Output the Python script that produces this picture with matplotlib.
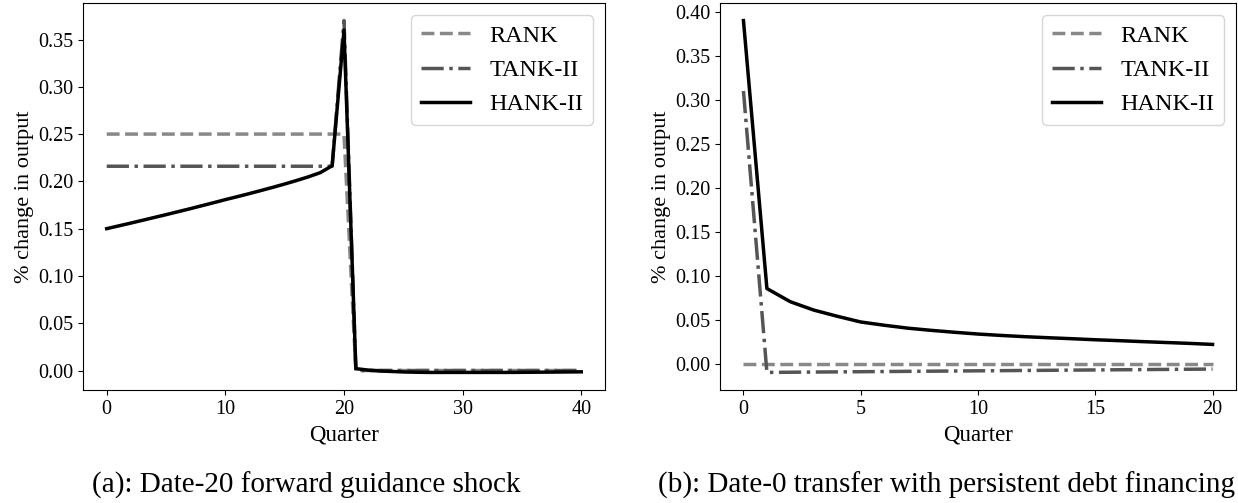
import numpy as np
import matplotlib
matplotlib.use("Agg")
import matplotlib.pyplot as plt

plt.rcParams['font.family'] = ['Liberation Serif', 'DejaVu Serif']

# panel (a): date-20 forward guidance shock
quarter_a = list(range(41))
rank_a = [0.25, 0.25, 0.25, 0.25, 0.25, 0.25, 0.25, 0.25, 0.25, 0.25,
          0.25, 0.25, 0.25, 0.25, 0.25, 0.25, 0.25, 0.25, 0.25, 0.25,
          0.25, 0.0, 0.0, 0.0, 0.0, 0.0, 0.0, 0.0, 0.0, 0.0,
          0.0, 0.0, 0.0, 0.0, 0.0, 0.0, 0.0, 0.0, 0.0, 0.0, 0.0]
tank_a = [0.216, 0.216, 0.216, 0.216, 0.216, 0.216, 0.216, 0.216, 0.216, 0.216,
          0.216, 0.216, 0.216, 0.216, 0.216, 0.216, 0.216, 0.216, 0.216, 0.216,
          0.370, 0.0, 0.0, 0.0, 0.0, 0.0, 0.0, 0.0, 0.0, 0.0,
          0.0, 0.0, 0.0, 0.0, 0.0, 0.0, 0.0, 0.0, 0.0, 0.0, 0.0]
hank_a = [0.1500, 0.1529, 0.1558, 0.1588, 0.1618, 0.1648, 0.1679, 0.1710, 0.1742, 0.1774,
          0.1807, 0.1838, 0.1870, 0.1903, 0.1937, 0.1972, 0.2009, 0.2048, 0.2092, 0.2165,
          0.3600, 0.0020, 0.0005, -0.0005, -0.0010, -0.0015, -0.0018, -0.0020, -0.0020, -0.0020,
          -0.0020, -0.0020, -0.0020, -0.0020, -0.0020, -0.0019, -0.0018, -0.0017, -0.0016, -0.0015, -0.0014]

# panel (b): date-0 transfer with persistent debt financing
quarter_b = list(range(21))
rank_b = [0.0, 0.0, 0.0, 0.0, 0.0, 0.0, 0.0, 0.0, 0.0, 0.0,
          0.0, 0.0, 0.0, 0.0, 0.0, 0.0, 0.0, 0.0, 0.0, 0.0, 0.0]
tank_b = [0.310, -0.0098, -0.0096, -0.0094, -0.0092, -0.0090, -0.0088, -0.0086, -0.0084, -0.0082,
          -0.0080, -0.0078, -0.0076, -0.0074, -0.0072, -0.0070, -0.0068, -0.0066, -0.0064, -0.0062, -0.0060]
hank_b = [0.390, 0.0855, 0.0705, 0.0610, 0.0540, 0.0475, 0.0438, 0.0405, 0.0380, 0.0358,
          0.0338, 0.0322, 0.0308, 0.0296, 0.0285, 0.0273, 0.0263, 0.0252, 0.0242, 0.0232, 0.0220]

labels = ['RANK', 'TANK-II', 'HANK-II']
captions = ['(a): Date-20 forward guidance shock',
            '(b): Date-0 transfer with persistent debt financing']

fig = plt.figure(figsize=(12.38, 5.03), dpi=100)
ax1 = fig.add_axes([83/1238, 113/503, 522/1238, 387/503])
ax2 = fig.add_axes([720/1238, 113/503, 516/1238, 387/503])

for ax, q, r, t, h in [(ax1, quarter_a, rank_a, tank_a, hank_a),
                       (ax2, quarter_b, rank_b, tank_b, hank_b)]:
    ax.plot(q, r, '--', color='#888888', lw=2.5, label=labels[0])
    ax.plot(q, t, '-.', color='#555555', lw=2.5, label=labels[1])
    ax.plot(q, h, '-', color='black', lw=2.5, label=labels[2])
    ax.set_xlabel('Quarter', fontsize=16.5)
    ax.set_ylabel('% change in output', fontsize=16, labelpad=3)
    ax.tick_params(labelsize=14.5)
    ax.yaxis.set_major_formatter(matplotlib.ticker.FormatStrFormatter('%.2f'))
    ax.legend(loc='upper right', fontsize=17.5)

ax2.set_xticks([0, 5, 10, 15, 20])

# subfigure captions, baseline near the bottom edge
fig.text(306/1238, 10/503, captions[0], ha='center', va='baseline', fontsize=21)
fig.text(946/1238, 10/503, captions[1], ha='center', va='baseline', fontsize=21)

plt.savefig('out.png', dpi=100)
